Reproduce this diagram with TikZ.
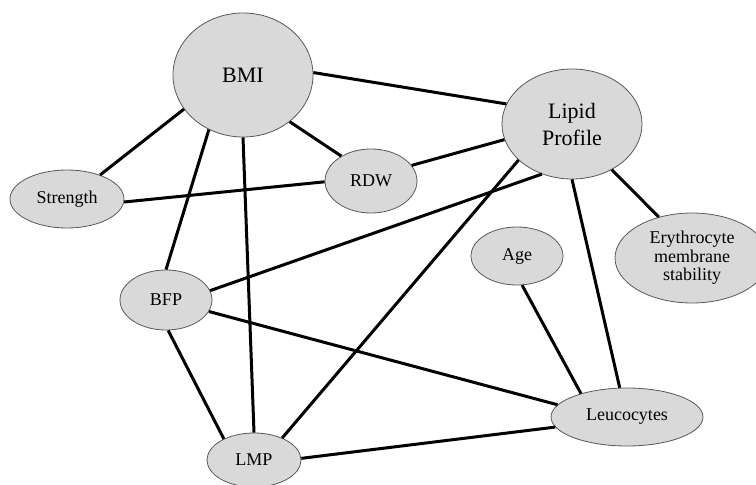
\documentclass[tikz,border=0pt]{standalone}
\usepackage{fontspec}
\setmainfont{Liberation Serif}
\usetikzlibrary{shapes.geometric}
\definecolor{nodefill}{HTML}{D9D9D9}
\definecolor{nodeline}{HTML}{595959}
\tikzset{
  vnode/.style={ellipse, draw=nodeline, line width=0.8pt, fill=nodefill, inner sep=0pt, align=center},
  bignode/.style={vnode, font=\fontsize{22}{27}\selectfont},
  smallnode/.style={vnode, font=\fontsize{18}{18.5}\selectfont},
  link/.style={line width=3pt, black}
}
\begin{document}
\begin{tikzpicture}[x=1pt,y=-1pt]
\useasboundingbox (0,0) rectangle (756,485);
\node[bignode, minimum width=140pt, minimum height=124pt] (BMI) at (243,75) {BMI};
\node[bignode, minimum width=140pt, minimum height=110pt] (Lipid) at (572,124) {Lipid\\Profile};
\node[smallnode, minimum width=114pt, minimum height=58pt] (Strength) at (67,199) {Strength};
\node[smallnode, minimum width=92pt, minimum height=64pt] (RDW) at (371,181) {RDW};
\node[smallnode, minimum width=154pt, minimum height=90pt] (Ery) at (692,258) {Erythrocyte\\membrane\\stability};
\node[smallnode, minimum width=92pt, minimum height=58pt] (Age) at (517,256) {Age};
\node[smallnode, minimum width=92pt, minimum height=60pt] (BFP) at (166,300) {BFP};
\node[smallnode, minimum width=152pt, minimum height=58pt] (Leu) at (627,417) {Leucocytes};
\node[smallnode, minimum width=94pt, minimum height=54pt] (LMP) at (254,460) {LMP};

\draw[link] (BMI.2) -- (Lipid.163);
\draw[link] (BMI.210) -- (Strength.36);
\draw[link] (BMI.315) -- (RDW.140);
\draw[link] (BMI.238) -- (BFP.90);
\draw[link] (BMI.270) -- (LMP.90);
\draw[link] (Strength.357) -- (RDW.181);
\draw[link] (RDW.21) -- (Lipid.193);
\draw[link] (Lipid.239) -- (BFP.12);
\draw[link] (Lipid.214) -- (LMP.38);
\draw[link] (Lipid.270) -- (Leu.104);
\draw[link] (Lipid.311) -- (Ery.129);
\draw[link] (Age.280) -- (Leu.153);
\draw[link] (BFP.345) -- (Leu.170);
\draw[link] (BFP.274) -- (LMP.145);
\draw[link] (LMP.2) -- (Leu.188);
\end{tikzpicture}
\end{document}
